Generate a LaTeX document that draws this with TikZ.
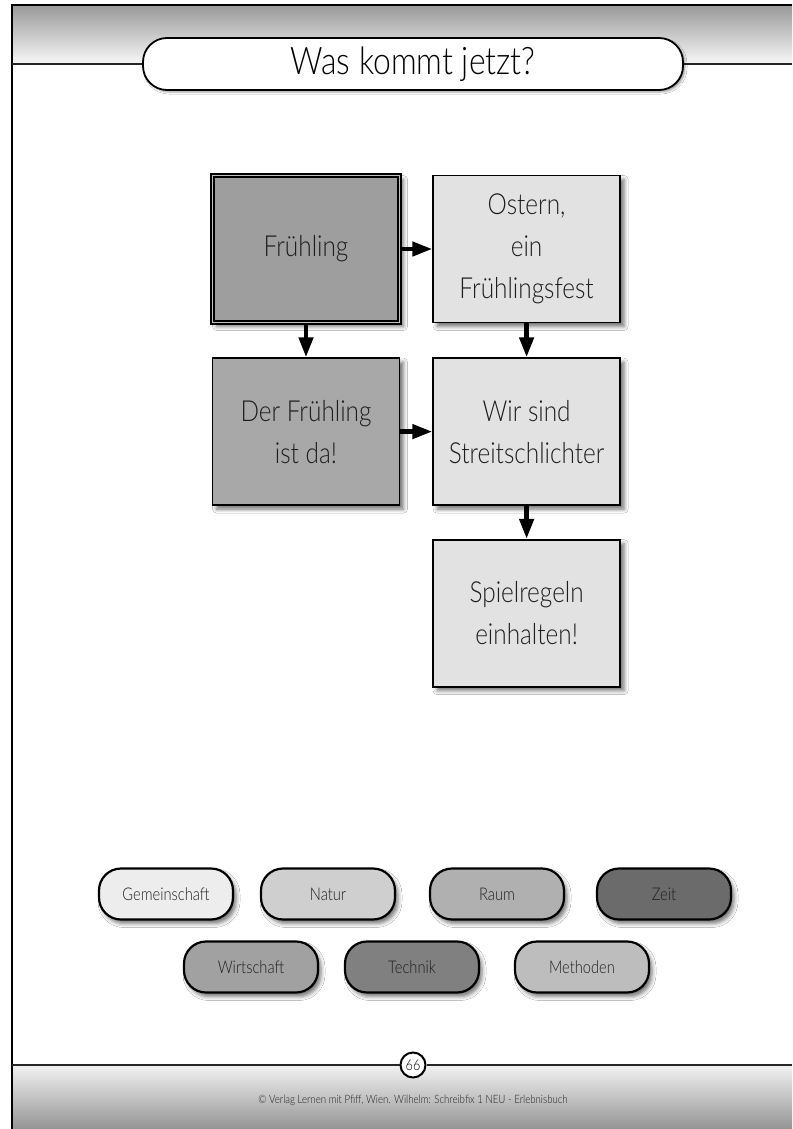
\documentclass[tikz,border=0pt]{standalone}
\usepackage{fontspec}
\setmainfont{Lato}[FakeStretch=0.84, UprightFont={* Light}]
\usepackage{tikz}
\usepackage{xcolor}
\usetikzlibrary{arrows.meta, positioning, shadows.blur}
\definecolor{boxdark}{RGB}{158,158,158}
\definecolor{boxmid}{RGB}{168,168,168}
\definecolor{boxlight}{RGB}{226,226,226}
\definecolor{inktext}{RGB}{30,30,30}
\tikzstyle{fbox}=[rectangle, draw=black, line width=1.6pt, fill=boxlight,
  minimum width=187pt, minimum height=147pt, align=center, inner sep=0pt,
  font=\fontsize{29}{42}\selectfont, text=inktext,
  blur shadow={shadow xshift=4pt, shadow yshift=-4pt, shadow blur radius=4pt, shadow opacity=55}]
\tikzstyle{tagbox}=[rectangle, rounded corners=22pt, draw=black, line width=2.2pt,
  minimum width=134pt, minimum height=51pt, font=\fontsize{17.5}{20}\selectfont, text=inktext,
  blur shadow={shadow xshift=3pt, shadow yshift=-4pt, shadow blur radius=4pt, shadow opacity=55}]
\tikzstyle{garr}=[-{Triangle[length=20pt, width=14pt]}, line width=4.5pt, color=black]
\begin{document}
\begin{tikzpicture}[x=1pt, y=-1pt]
        \useasboundingbox (0,0) rectangle (792,1129);
        \fill[white] (0,0) rectangle (792,1129);
        \shade[top color=black!40, bottom color=black!3] (12,5) rectangle (792,64);
        \shade[top color=black!5, bottom color=black!42] (12,1065) rectangle (792,1129);
        \draw[line width=2.5pt] (12,1129) -- (12,5) -- (792,5);
        \coordinate (hl) at (12,64);
        \coordinate (hr) at (792,64);
        \coordinate (fl) at (12,1065);
        \coordinate (fr) at (792,1065);
        \node[draw=black, line width=1.8pt, fill=white, rounded corners=24pt,
          minimum width=540pt, minimum height=52pt, font=\fontsize{38}{40}\selectfont,
          blur shadow={shadow xshift=2pt, shadow yshift=-2pt, shadow blur radius=2pt, shadow opacity=40}]
          (title) at (413,64) {Was kommt jetzt?};
        \draw[line width=2pt, gray!30!black] (hl) -- (title.west);
        \draw[line width=2pt, gray!30!black] (title.east) -- (hr);
        \node[fbox, fill=boxdark, double=black!25, double distance=1.6pt, line width=1.6pt]
          (b1) at (306,249) {Frühling};
        \node[fbox, right=32pt of b1] (b2) {Ostern,\\ein\\Frühlingsfest};
        \node[fbox, fill=boxmid, below=34pt of b1] (b3) {Der Frühling\\ist da!};
        \node[fbox, below=34pt of b2] (b4) {Wir sind\\Streitschlichter};
        \node[fbox, below=33pt of b4] (b5) {Spielregeln\\einhalten!};
        \draw[garr] (b1)--(b2);
        \draw[garr] (b1)--(b3);
        \draw[garr] (b2)--(b4);
        \draw[garr] (b3)--(b4);
        \draw[garr] (b4)--(b5);
        \node[tagbox, fill=black!7] (t1) at (166,894) {Gemeinschaft};
        \node[tagbox, fill=black!19] (t2) at (328,894) {Natur};
        \node[tagbox, fill=black!31] (t3) at (497,894) {Raum};
        \node[tagbox, fill=black!58] (t4) at (664,894) {Zeit};
        \node[tagbox, fill=black!37] (t5) at (251,967) {Wirtschaft};
        \node[tagbox, fill=black!50] (t6) at (412,967) {Technik};
        \node[tagbox, fill=black!26] (t7) at (582,967) {Methoden};
        \node[circle, draw=black, line width=2pt, fill=white, minimum size=25pt, inner sep=0pt,
          font=\fontsize{15}{16}\selectfont] (pg) at (413,1065) {66};
        \draw[line width=2.5pt, gray!30!black] (fl) -- (pg.west);
        \draw[line width=2.5pt, gray!30!black] (pg.east) -- (fr);
        \node[font=\fontsize{11.5}{13}\selectfont, text=gray!25!black] (foot) at (413,1100)
          {© Verlag Lernen mit Pfiff, Wien. Wilhelm: Schreibfix 1 NEU - Erlebnisbuch};
      \end{tikzpicture}
\end{document}
